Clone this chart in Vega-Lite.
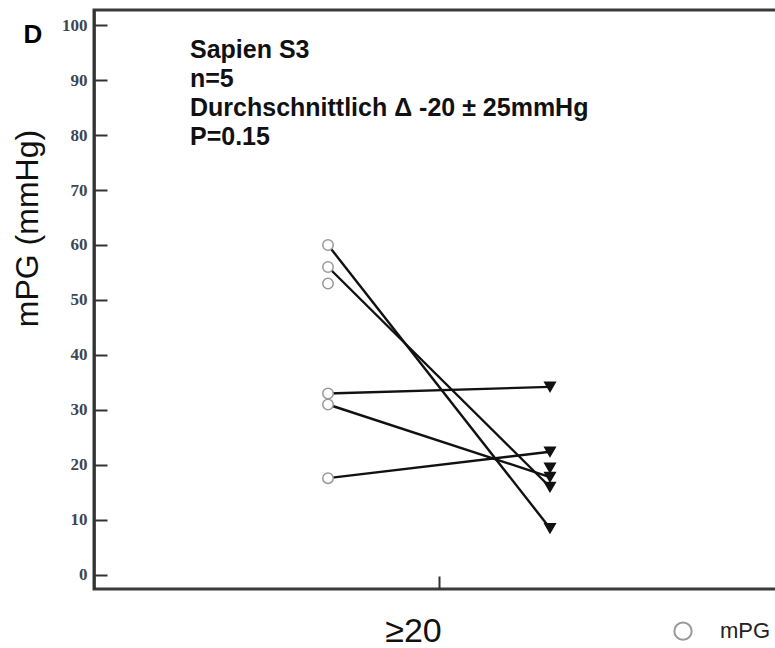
{
  "$schema": "https://vega.github.io/schema/vega-lite/v6.json",
  "width": 690,
  "height": 579,
  "autosize": {"type": "none"},
  "padding": {"left": 94, "top": 10, "right": 0, "bottom": 59},
  "background": "white",
  "config": {"view": {"stroke": "#3a3a3a", "strokeWidth": 3}, "font": "Liberation Sans"},
  "datasets": {
    "paare": [
      {"id": "A", "time": "vor", "Messung": "mPG vorher", "mpg": 60},
      {"id": "A", "time": "nach", "Messung": "mPG nachher", "mpg": 8.5},
      {"id": "B", "time": "vor", "Messung": "mPG vorher", "mpg": 56},
      {"id": "B", "time": "nach", "Messung": "mPG nachher", "mpg": 16},
      {"id": "C", "time": "vor", "Messung": "mPG vorher", "mpg": 33},
      {"id": "C", "time": "nach", "Messung": "mPG nachher", "mpg": 34.2},
      {"id": "D", "time": "vor", "Messung": "mPG vorher", "mpg": 31},
      {"id": "D", "time": "nach", "Messung": "mPG nachher", "mpg": 17.8},
      {"id": "E", "time": "vor", "Messung": "mPG vorher", "mpg": 17.6},
      {"id": "E", "time": "nach", "Messung": "mPG nachher", "mpg": 22.4},
      {"id": "F", "time": "vor", "Messung": "mPG vorher", "mpg": 53},
      {"id": "G", "time": "nach", "Messung": "mPG nachher", "mpg": 19.5}
    ]
  },
  "layer": [
    {
      "data": {"name": "paare"},
      "mark": {"type": "line", "color": "#111", "strokeWidth": 2.4},
      "encoding": {
        "x": {
          "field": "time", "type": "nominal",
          "scale": {"type": "point", "domain": ["vor", "≥20", "nach"], "range": [234, 456], "padding": 0},
          "axis": {
            "title": null, "values": ["≥20"], "grid": false, "domain": false,
            "tickSize": -13, "tickWidth": 2, "tickColor": "#333",
            "labelFont": "Liberation Sans", "labelFontSize": 34, "labelColor": "#111",
            "labelPadding": 38, "labelOffset": -26, "labelAngle": 0
          }
        },
        "y": {
          "field": "mpg", "type": "quantitative",
          "scale": {"domain": [-2.55, 102.73], "nice": false, "zero": false},
          "axis": {
            "title": "mPG (mmHg)", "grid": false,
            "values": [0, 5, 10, 15, 20, 25, 30, 35, 40, 45, 50, 55, 60, 65, 70, 75, 80, 85, 90, 95, 100],
            "labelExpr": "datum.value % 10 === 0 ? datum.label : ''",
            "labelOverlap": false,
            "tickSize": {"condition": {"test": "datum.value % 10 === 0", "value": -13}, "value": -6},
            "tickWidth": 2, "tickColor": "#333",
            "domainColor": "#333", "domainWidth": 2.5,
            "labelFont": "Liberation Serif", "labelFontWeight": "bold", "labelFontSize": 17,
            "labelColor": "#3d4652", "labelPadding": 20,
            "titleFont": "Liberation Sans", "titleFontWeight": "normal", "titleFontSize": 32,
            "titleColor": "#111", "titleX": -57, "titleY": 218, "titleAngle": -90,
            "titleAlign": "center", "titleBaseline": "alphabetic"
          }
        },
        "detail": {"field": "id", "type": "nominal"}
      }
    },
    {
      "data": {"name": "paare"},
      "mark": {"type": "point", "filled": true, "size": 110, "strokeWidth": 1.5, "opacity": 1},
      "encoding": {
        "x": {"field": "time", "type": "nominal"},
        "y": {"field": "mpg", "type": "quantitative"},
        "shape": {
          "field": "Messung", "type": "nominal",
          "scale": {"domain": ["mPG vorher", "mPG nachher"], "range": ["circle", "triangle-down"]},
          "legend": {
            "title": null, "orient": "none", "legendX": 578, "legendY": 610,
            "direction": "horizontal", "labelFontSize": 22, "labelFont": "Liberation Sans",
            "labelColor": "#222", "symbolSize": 300, "symbolStrokeWidth": 2,
            "labelOffset": 26, "columnPadding": 40,
            "encode": {"symbols": {"update": {"stroke": {"value": "#333"}}}}
          }
        },
        "fill": {
          "field": "Messung", "type": "nominal",
          "scale": {"domain": ["mPG vorher", "mPG nachher"], "range": ["white", "#111"]}
        },
        "stroke": {
          "field": "Messung", "type": "nominal",
          "scale": {"domain": ["mPG vorher", "mPG nachher"], "range": ["#999999", "#111"]}
        }
      }
    },
    {
      "data": {"values": [{"label": "D"}]},
      "mark": {"type": "text", "font": "Liberation Sans", "fontSize": 26, "fontWeight": "bold",
               "align": "center", "baseline": "middle", "dx": -295, "clip": false, "color": "#000"},
      "encoding": {
        "x": {"datum": "vor", "type": "nominal"},
        "y": {"datum": 98.2, "type": "quantitative"},
        "text": {"field": "label", "type": "nominal"}
      }
    },
    {
      "data": {"values": [
        {"label": ["Sapien S3", "\u00a0n=5", "Durchschnittlich Δ -20 ± 25mmHg", "P=0.15"]}
      ]},
      "mark": {"type": "text", "font": "Liberation Sans", "fontSize": 25, "fontWeight": "bold",
               "align": "left", "baseline": "alphabetic", "lineHeight": 29, "dx": -138, "color": "#111"},
      "encoding": {
        "x": {"datum": "vor", "type": "nominal"},
        "y": {"datum": 94, "type": "quantitative"},
        "text": {"field": "label"}
      }
    }
  ]
}
